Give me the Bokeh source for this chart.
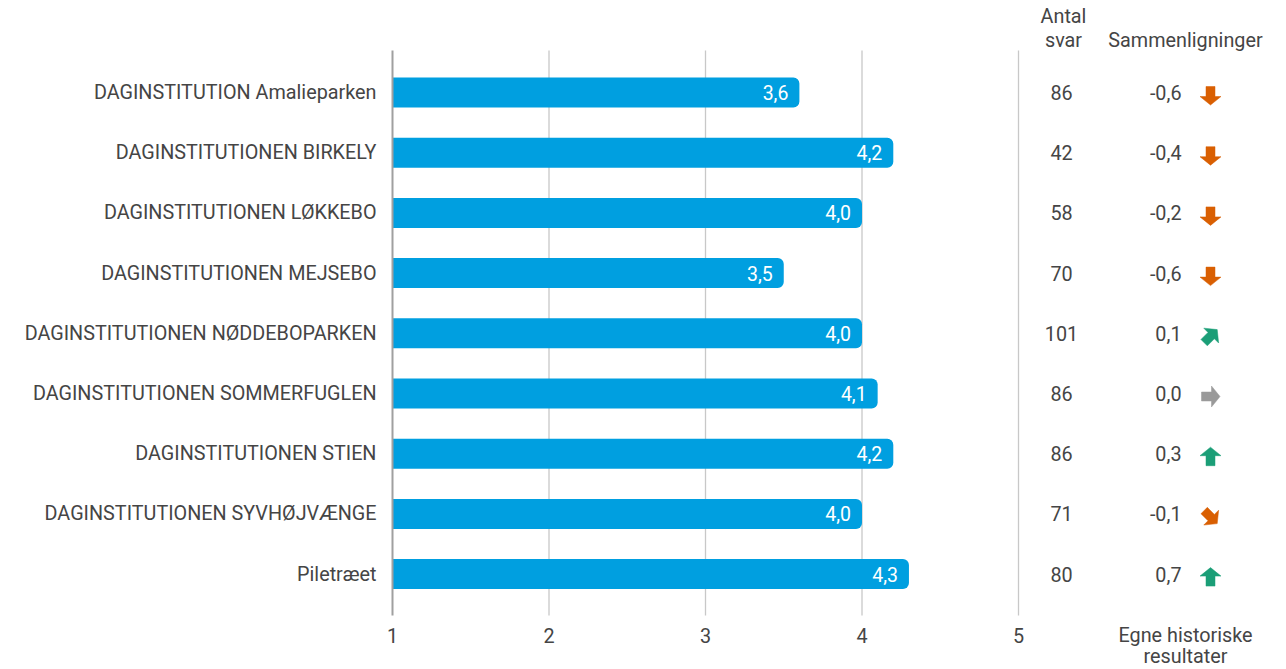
import math
from bokeh.plotting import figure
from bokeh.models import ColumnDataSource, FixedTicker, Range1d
from bokeh.core.properties import value
from bokeh.embed import file_html
from bokeh.resources import INLINE

# ---------------- data ----------------
categories = [
    "DAGINSTITUTION Amalieparken",
    "DAGINSTITUTIONEN BIRKELY",
    "DAGINSTITUTIONEN LØKKEBO",
    "DAGINSTITUTIONEN MEJSEBO",
    "DAGINSTITUTIONEN NØDDEBOPARKEN",
    "DAGINSTITUTIONEN SOMMERFUGLEN",
    "DAGINSTITUTIONEN STIEN",
    "DAGINSTITUTIONEN SYVHØJVÆNGE",
    "Piletræet",
]
scores = [3.6, 4.2, 4.0, 3.5, 4.0, 4.1, 4.2, 4.0, 4.3]
antal_svar = [86, 42, 58, 70, 101, 86, 86, 71, 80]
sammenligninger = [-0.6, -0.4, -0.2, -0.6, 0.1, 0.0, 0.3, -0.1, 0.7]
x_ticks = [1, 2, 3, 4, 5]
header_antal = ["Antal", "svar"]
header_samm = "Sammenligninger"
footer_samm = ["Egne historiske", "resultater"]

# ---------------- styling ----------------
FONT = "Roboto"
TXT = "#454545"
BAR = "#009FE0"
GREEN = "#1B9E77"
ORANGE = "#D95F02"
GREY = "#9A9A9A"

W, H = 1286, 669
X1_PX = 392       # pixel x of value 1
PX_X = 156.5      # pixels per x unit
PX_Y = 60.2       # pixels per row
ROW0 = 92         # pixel y of first row centre

def ydat(py):
    return (py - ROW0) / PX_Y

def xdat(px):
    return 1 + (px - X1_PX) / PX_X

X_COUNT = xdat(1061)
X_DIFF = xdat(1181)
X_ARROW = xdat(1210)
X_HEAD2 = xdat(1185)

def fmt(v):
    return f"{v:.1f}".replace(".", ",")

def arrow_for(d):
    # angle (radians, clockwise from "up" on screen) and colour
    if d >= 0.2:
        return 0.0, GREEN
    if d > 0:
        return math.pi / 4, GREEN
    if d == 0:
        return math.pi / 2, GREY
    if d > -0.2:
        return 3 * math.pi / 4, ORANGE
    return math.pi, ORANGE

# block-arrow outline in screen pixels, pointing up, centred on (0, 0)
ARROW_SHAPE = [(0, -9.5), (10.5, -1), (4.5, -1), (4.5, 9), (-4.5, 9), (-4.5, -1), (-10.5, -1)]
ARROW_DY = 3

idx = list(range(len(categories)))
arrow_xs, arrow_ys, arrow_cols = [], [], []
for i, d in zip(idx, sammenligninger):
    ang, col = arrow_for(d)
    c, s = math.cos(ang), math.sin(ang)
    xs, ys = [], []
    for px, py in ARROW_SHAPE:
        rx = px * c - py * s
        ry = px * s + py * c
        xs.append(X_ARROW + rx / PX_X)
        ys.append(i + (ry + ARROW_DY) / PX_Y)
    arrow_xs.append(xs)
    arrow_ys.append(ys)
    arrow_cols.append(col)

src = ColumnDataSource(dict(
    y=idx,
    score=scores,
    score_txt=[fmt(s) for s in scores],
    count_txt=[str(c) for c in antal_svar],
    diff_txt=[fmt(d) for d in sammenligninger],
))

p = figure(
    width=W, height=H,
    x_range=Range1d(xdat(0), xdat(W)),
    y_range=Range1d(ydat(H), ydat(0)),
    output_backend="svg", toolbar_location=None,
    min_border_left=0, min_border_right=0, min_border_top=0, min_border_bottom=0,
)
p.outline_line_color = None
p.xgrid.visible = False
p.ygrid.visible = False
p.background_fill_color = "white"

grid_top = ydat(50)
grid_bot = ydat(615)

# vertical grid lines
gx = x_ticks[1:]
p.segment(x0=gx, x1=gx, y0=[grid_top] * len(gx), y1=[grid_bot] * len(gx),
          line_color="#C8C8C8", line_width=1.3)

# bars
p.hbar(y="y", left=1, right="score", height=30 / PX_Y, source=src,
       fill_color=BAR, line_color=None, border_radius=(0, 6, 6, 0))

# value labels inside bars
p.text(x="score", y="y", text="score_txt", source=src, x_offset=-11,
       text_align="right", text_baseline="middle", text_color="white",
       text_font=value(FONT), text_font_size="19.5px")

# Antal svar column
p.text(x=X_COUNT, y="y", text="count_txt", source=src,
       text_align="center", text_baseline="middle", text_color=TXT,
       text_font=value(FONT), text_font_size="19.8px")

# Sammenligninger column
p.text(x=X_DIFF, y="y", text="diff_txt", source=src,
       text_align="right", text_baseline="middle", text_color=TXT,
       text_font=value(FONT), text_font_size="19.8px")

p.patches(xs=arrow_xs, ys=arrow_ys, fill_color=arrow_cols, line_color=arrow_cols, line_width=0.5)

# headers
p.text(x=[xdat(1063)] * 2, y=[ydat(16), ydat(40)], text=header_antal,
       text_align="center", text_baseline="middle", text_color=TXT,
       text_font=value(FONT), text_font_size="19.8px")
p.text(x=[X_HEAD2], y=[ydat(40)], text=[header_samm],
       text_align="center", text_baseline="middle", text_color=TXT,
       text_font=value(FONT), text_font_size="19.8px")

# footer of the comparison column
p.text(x=[X_HEAD2] * 2, y=[ydat(635), ydat(656)], text=footer_samm,
       text_align="center", text_baseline="middle", text_color=TXT,
       text_font=value(FONT), text_font_size="19.8px")

# y axis: categories, drawn at x = 1
p.yaxis.ticker = FixedTicker(ticks=idx)
p.yaxis.fixed_location = 1
p.yaxis.major_label_overrides = {i: c for i, c in zip(idx, categories)}
p.yaxis.major_tick_out = 0
p.yaxis.major_tick_in = 0
p.yaxis.minor_tick_out = 0
p.yaxis.minor_tick_in = 0
p.yaxis.major_label_standoff = 16
p.yaxis.major_label_text_font = FONT
p.yaxis.major_label_text_font_size = "19.8px"
p.yaxis.major_label_text_color = TXT
p.yaxis.axis_line_color = "#A0A0A0"
p.yaxis.axis_line_width = 2
p.yaxis.bounds = (grid_top, grid_bot)

# x axis drawn at the bottom of the grid
p.xaxis.ticker = FixedTicker(ticks=x_ticks)
p.xaxis.fixed_location = grid_bot
p.xaxis.axis_line_color = None
p.xaxis.major_tick_out = 0
p.xaxis.major_tick_in = 0
p.xaxis.minor_tick_out = 0
p.xaxis.minor_tick_in = 0
p.xaxis.major_label_standoff = 12
p.xaxis.major_label_text_font = FONT
p.xaxis.major_label_text_font_size = "19.8px"
p.xaxis.major_label_text_color = TXT

open("out.html", "w").write(file_html(p, INLINE))
